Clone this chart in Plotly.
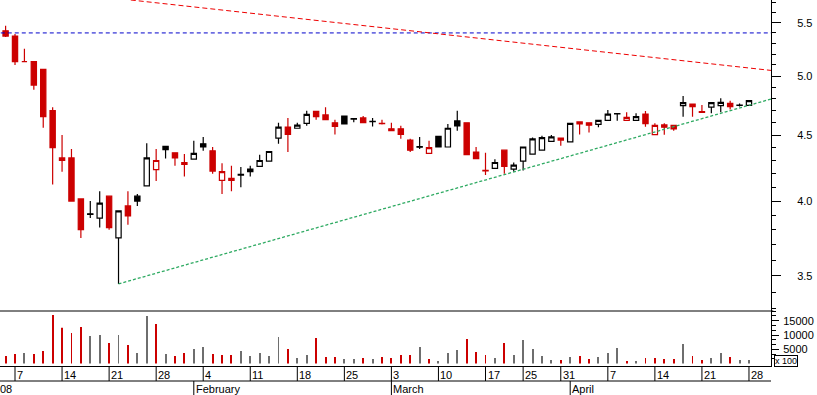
import math
import plotly.graph_objects as go

# ---------------- data ----------------
jan_days = [4, 7, 8, 9, 10, 11, 14, 15, 16, 17, 18, 21, 22, 23, 24, 25, 28, 29, 30, 31]
feb_days = [1, 4, 5, 6, 7, 8, 11, 12, 13, 14, 15, 18, 19, 20, 21, 22, 25, 26, 27, 28, 29]
mar_days = [3, 4, 5, 6, 7, 10, 11, 12, 13, 14, 17, 18, 19, 20, 25, 26, 27, 28, 31]
apr_days = [1, 2, 3, 4, 7, 8, 9, 10, 11, 14, 15, 16, 17, 18, 21, 22, 23, 24, 25, 28]
month_names = ["08", "February", "March", "April"]

prior_close = 5.45

opens = [5.42, 5.37, 5.13, 5.13, 5.06, 4.70, 4.32, 4.32, 4.015, 3.91,
         3.88, 4.035, 3.745, 3.965, 4.035, 4.11, 4.23, 4.41, 4.36, 4.27,
         4.31, 4.43, 4.375, 4.15, 4.165, 4.195, 4.235, 4.255, 4.295, 4.475,
         4.565, 4.555, 4.595, 4.695, 4.665, 4.60, 4.655, 4.635, 4.64, 4.612,
         4.595, 4.55, 4.55, 4.46, 4.408, 4.355, 4.49, 4.405, 4.615, 4.60,
         4.365, 4.226, 4.24, 4.38, 4.235, 4.295, 4.35, 4.38, 4.45, 4.475,
         4.445, 4.607, 4.60, 4.587, 4.62, 4.676, 4.62, 4.62, 4.672, 4.503,
         4.582, 4.579, 4.742, 4.756, 4.693, 4.73, 4.742, 4.762, 4.748, 4.745]
highs = [5.47, 5.39, 5.25, 5.13, 5.06, 4.73, 4.50, 4.39, 4.015, 4.00,
         4.07, 4.035, 3.935, 4.07, 4.05, 4.435, 4.39, 4.41, 4.36, 4.35,
         4.455, 4.485, 4.405, 4.28, 4.26, 4.25, 4.26, 4.345, 4.372, 4.60,
         4.64, 4.60, 4.70, 4.695, 4.73, 4.625, 4.655, 4.64, 4.655, 4.64,
         4.625, 4.60, 4.575, 4.47, 4.485, 4.455, 4.49, 4.59, 4.70, 4.60,
         4.405, 4.36, 4.31, 4.38, 4.285, 4.405, 4.48, 4.495, 4.50, 4.475,
         4.596, 4.61, 4.60, 4.62, 4.705, 4.678, 4.687, 4.678, 4.698, 4.596,
         4.596, 4.58, 4.825, 4.76, 4.748, 4.768, 4.805, 4.785, 4.76, 4.785]
lows = [5.36, 5.10, 5.13, 4.88, 4.56, 4.12, 4.215, 3.995, 3.745, 3.88,
        3.815, 3.80, 3.45, 3.835, 3.965, 4.11, 4.145, 4.315, 4.26, 4.18,
        4.31, 4.375, 4.20, 4.05, 4.07, 4.10, 4.18, 4.255, 4.295, 4.43,
        4.365, 4.555, 4.575, 4.625, 4.625, 4.505, 4.585, 4.605, 4.60, 4.57,
        4.585, 4.535, 4.47, 4.365, 4.39, 4.355, 4.405, 4.405, 4.535, 4.345,
        4.315, 4.19, 4.24, 4.20, 4.215, 4.225, 4.35, 4.38, 4.45, 4.415,
        4.44, 4.505, 4.52, 4.563, 4.62, 4.617, 4.62, 4.62, 4.568, 4.503,
        4.503, 4.535, 4.65, 4.65, 4.685, 4.678, 4.687, 4.71, 4.735, 4.745]
closes = [5.37, 5.13, 5.13, 4.92, 4.65, 4.40, 4.30, 4.00, 3.80, 3.905,
          3.985, 3.815, 3.93, 3.895, 4.00, 4.32, 4.30, 4.385, 4.32, 4.285,
          4.355, 4.405, 4.22, 4.215, 4.15, 4.19, 4.215, 4.30, 4.37, 4.565,
          4.505, 4.58, 4.67, 4.65, 4.625, 4.57, 4.59, 4.63, 4.60, 4.608,
          4.592, 4.535, 4.505, 4.38, 4.404, 4.40, 4.405, 4.555, 4.575, 4.345,
          4.315, 4.222, 4.285, 4.255, 4.265, 4.405, 4.47, 4.48, 4.485, 4.46,
          4.595, 4.59, 4.58, 4.62, 4.672, 4.674, 4.645, 4.65, 4.592, 4.579,
          4.563, 4.55, 4.768, 4.734, 4.685, 4.768, 4.771, 4.734, 4.745, 4.785]
volumes = [2660, 3360, 3710, 3360, 4410, 17000, 12570, 10700, 12800, 9650,
           10000, 7200, 10000, 6500, 3710, 16650, 13850, 3360, 2660, 3710,
           5110, 5800, 3360, 3010, 3010, 4410, 2660, 3710, 2660, 9300,
           5110, 1960, 3010, 8950, 2310, 2310, 1610, 1610, 1960, 1610,
           2310, 1960, 3010, 3010, 5800, 1610, 910, 3710, 4760, 8600,
           4060, 3010, 1960, 7200, 3010, 8250, 5110, 2660, 1260, 1260,
           2310, 2660, 1610, 2310, 3710, 5450, 910, 910, 1960, 1960,
           1610, 1610, 6850, 2660, 1260, 1960, 3710, 2310, 1260, 1260]

level_price = 5.40                      # horizontal resistance level
resist_pos = [13.3, 81.4]               # falling resistance (trading-day index)
resist_val = [5.727, 5.05]
support_pos = [12, 81.4]                # rising support from the Jan 22 low
support_val = [3.45, 4.80]

price_ticks = [3.5, 4.0, 4.5, 5.0, 5.5]
price_minor = [3.3, 3.4, 3.6, 3.7, 3.8, 3.9, 4.1, 4.2, 4.3, 4.4, 4.6, 4.7,
               4.8, 4.9, 5.1, 5.2, 5.3, 5.4, 5.6, 5.7]
vol_ticks = [5000, 10000, 15000]
vol_minor = [1666.7, 3333.3, 6666.7, 8333.3, 11666.7, 13333.3, 16666.7, 18333.3]

# ---------------- derived ----------------
months = [(1, jan_days), (2, feb_days), (3, mar_days), (4, apr_days)]
month_len = {1: 31, 2: 29, 3: 31, 4: 30}
dates = [(m, d) for m, days in months for d in days]
idx = list(range(len(dates)))
prev = [prior_close] + closes[:-1]
up_candle = [c > p for c, p in zip(closes, prev)]
up_vol = [c >= p for c, p in zip(closes, prev)]

RED = "#cc0000"
BLACK = "#000000"
GRAY = "#6e6e6e"
FONT = "Liberation Sans, Arial, sans-serif"


def pick(arr, mask):
    return [a if m else None for a, m in zip(arr, mask)]


fig = go.Figure()

for mask, col in [([not u for u in up_candle], RED), (up_candle, BLACK)]:
    fig.add_trace(go.Candlestick(
        x=idx, open=pick(opens, mask), high=pick(highs, mask),
        low=pick(lows, mask), close=pick(closes, mask),
        increasing=dict(line=dict(color=col, width=1.2), fillcolor="white"),
        decreasing=dict(line=dict(color=col, width=1.2), fillcolor=col),
        whiskerwidth=0, showlegend=False, hoverinfo="skip", yaxis="y"))

for mask, col in [([not u for u in up_vol], RED), (up_vol, GRAY)]:
    fig.add_trace(go.Bar(x=idx, y=pick(volumes, mask), marker=dict(color=col, line=dict(width=0)),
                         width=0.1, yaxis="y2", showlegend=False, hoverinfo="skip"))

# trend lines
fig.add_trace(go.Scatter(x=[idx[0] - 2, idx[-1] + 3], y=[level_price, level_price], mode="lines",
                         line=dict(color="#0000cc", width=1, dash="4px,3px"), yaxis="y",
                         showlegend=False, hoverinfo="skip"))
fig.add_trace(go.Scatter(x=resist_pos, y=resist_val, mode="lines",
                         line=dict(color="#ee0000", width=1, dash="5px,3px"), yaxis="y",
                         showlegend=False, hoverinfo="skip"))
fig.add_trace(go.Scatter(x=support_pos, y=support_val, mode="lines",
                         line=dict(color="#2eaa62", width=1.3, dash="3px,2px"), yaxis="y",
                         showlegend=False, hoverinfo="skip"))

PLOT_H = 366.0
split = 55 / PLOT_H
row1 = -15 / PLOT_H
row2 = -29 / PLOT_H

shapes = [
    dict(type="line", xref="paper", yref="paper", x0=0, x1=1.003, y0=split, y1=split,
         line=dict(color="black", width=1)),
    dict(type="line", xref="paper", yref="paper", x0=0, x1=1, y0=row1, y1=row1,
         line=dict(color="black", width=1)),
]
annotations = []

# first trading day of each week: preceded by a break of more than one calendar day
for i in range(1, len(dates)):
    m, d = dates[i]
    pm, pd_ = dates[i - 1]
    gap = d - pd_ if m == pm else d + month_len[pm] - pd_
    if gap <= 1:
        continue
    shapes.append(dict(type="line", xref="x", yref="paper", x0=i, x1=i, y0=0, y1=row1,
                       line=dict(color="black", width=1)))
    annotations.append(dict(x=i, xref="x", y=-0.0255, yref="paper", text=str(d), showarrow=False,
                            xanchor="left", yanchor="middle",
                            font=dict(family=FONT, size=11, color="black")))

# month labels
annotations.append(dict(x=0, xref="paper", y=-0.064, yref="paper", text=month_names[0], showarrow=False,
                        xanchor="left", yanchor="middle", xshift=-2,
                        font=dict(family=FONT, size=11, color="black")))
for i in range(1, len(dates)):
    if dates[i][0] != dates[i - 1][0]:
        shapes.append(dict(type="line", xref="x", yref="paper", x0=i, x1=i, y0=row1, y1=row2,
                           line=dict(color="black", width=1)))
        annotations.append(dict(x=i, xref="x", y=-0.064, yref="paper", text=month_names[dates[i][0] - 1],
                                showarrow=False, xanchor="left", yanchor="middle",
                                font=dict(family=FONT, size=11, color="black")))

annotations.append(dict(x=1.0035, xref="paper", y=0.0131, yref="paper", text="x 100", showarrow=False,
                        xanchor="left", yanchor="middle", bordercolor="black", borderwidth=1, borderpad=0,
                        bgcolor="white", font=dict(family=FONT, size=9, color="black")))

axis_font = dict(family=FONT, size=11, color="black")
fig.update_layout(
    width=817, height=395,
    margin=dict(l=0, r=46, t=0, b=29),
    paper_bgcolor="white", plot_bgcolor="white",
    showlegend=False, boxgap=0.2, barmode="overlay",
    xaxis=dict(range=[-0.595, 81.34], showgrid=False, zeroline=False, showticklabels=False,
               ticks="", showline=True, linecolor="black", linewidth=1, anchor="y2",
               rangeslider=dict(visible=False), fixedrange=True),
    yaxis=dict(domain=[split, 1], type="log",
               range=[math.log10(3.287), math.log10(5.727)],
               side="right", anchor="x", showgrid=False, zeroline=False,
               showline=True, linecolor="black", linewidth=1,
               tickmode="array", tickvals=price_ticks, ticktext=[f"{v:.1f}" for v in price_ticks],
               ticks="outside", ticklen=9, tickcolor="black", ticklabelstandoff=14,
               minor=dict(tickmode="array", tickvals=price_minor, ticks="outside", ticklen=4,
                          tickcolor="black", showgrid=False),
               tickfont=axis_font, fixedrange=True, automargin=False),
    yaxis2=dict(domain=[0, split], range=[-839, 18394], side="right", anchor="x",
                showgrid=False, zeroline=False, showline=True, linecolor="black", linewidth=1,
                tickmode="array", tickvals=vol_ticks, ticktext=[str(v) for v in vol_ticks],
                ticks="outside", ticklen=7, tickcolor="black", ticklabelstandoff=2,
                minor=dict(tickmode="array", tickvals=vol_minor, ticks="outside", ticklen=4,
                           tickcolor="black", showgrid=False),
                tickfont=axis_font, fixedrange=True, automargin=False),
    shapes=shapes, annotations=annotations,
)

fig.write_html("out.html", config={"displayModeBar": False},
               post_script="document.body.style.margin='0';document.body.style.overflow='hidden';")
